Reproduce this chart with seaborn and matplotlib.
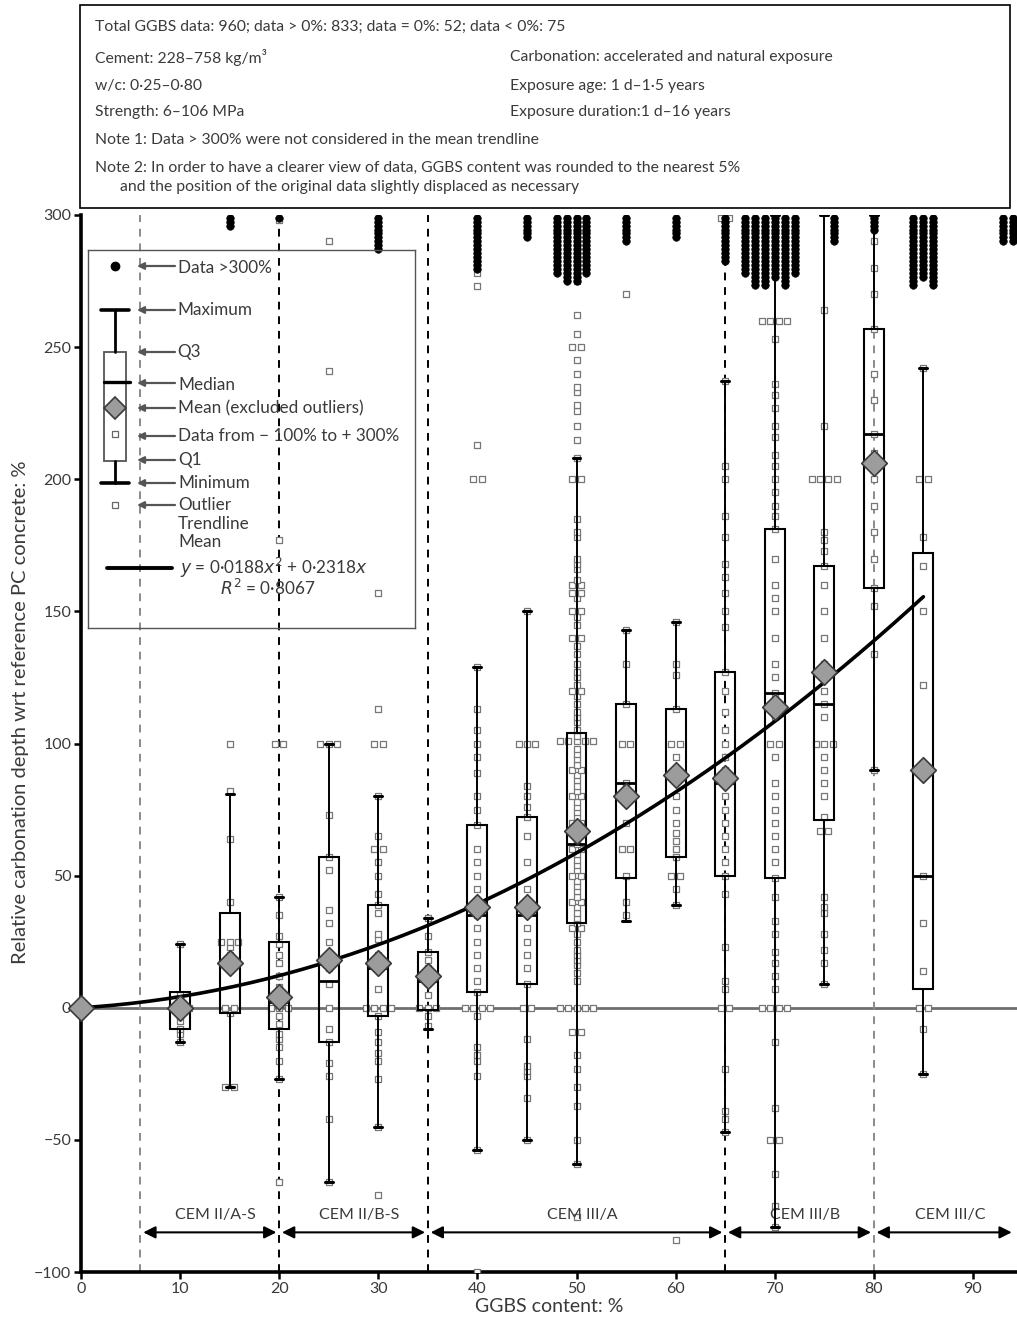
import numpy as np
import pandas as pd
import matplotlib
matplotlib.use("Agg")
import matplotlib.pyplot as plt
import seaborn as sns
from matplotlib.patches import Rectangle, Polygon

# ---------------- data ----------------
group_x = [10, 15, 20, 25, 30, 35, 40, 45, 50, 55, 60, 65, 70, 75, 80, 85]
box_q1 = [-8, -2, -8, -13, -3, -1, 6, 9, 32, 49, 57, 50, 49, 71, 159, 7]
box_q3 = [6, 36, 25, 57, 39, 21, 69, 72, 104, 115, 113, 127, 181, 167, 257, 172]
box_med = [0, 17, 2, 10, 15, 10, 35, 35, 62, 85, 87, 85, 119, 115, 217, 50]
box_lo = [-13, -30, -27, -66, -45, -8, -54, -50, -59, 33, 39, -47, -83, 9, 90, -25]
box_hi = [24, 81, 42, 100, 80, 34, 129, 150, 208, 143, 146, 237, 300, 300, 300, 242]

mean_x = [0, 10, 15, 20, 25, 30, 35, 40, 45, 50, 55, 60, 65, 70, 75, 80, 85]
mean_y = [0, 0, 17, 4, 18, 17, 12, 38, 38, 67, 80, 88, 87, 114, 127, 206, 90]

pts_0 = [0]
pts_10 = [24, 5, 3, 0, 0, 0, -3, -5, -8, -10, -13]
pts_15 = [100, 82, 64, 40, 25, 25, 25, 23, 20, 17, 0, 0, -2, -30, -30]
pts_20 = [298, 177, 100, 100, 42, 35, 27, 24, 20, 17, 12, 8, 5, 2, 0, 0, 0, -3, -6,
          -10, -12, -15, -20, -27, -66]
pts_25 = [290, 241, 100, 100, 100, 73, 57, 52, 37, 32, 25, 15, 9, 0, -8, -13, -21,
          -26, -42, -66]
pts_30 = [157, 113, 100, 100, 80, 65, 60, 60, 55, 50, 43, 39, 36, 28, 26, 20, 17, 15,
          7, 0, 0, 0, 0, -3, -9, -13, -17, -20, -27, -45, -71]
pts_35 = [34, 27, 21, 18, 15, 12, 10, 5, 0, 0, 0, -3, -7]
pts_40 = [283, 278, 273, 213, 200, 200, 129, 113, 105, 100, 95, 89, 80, 75, 69, 60,
          55, 50, 45, 40, 35, 30, 25, 20, 15, 10, 6, 0, 0, 0, 0, -3, -15, -18, -20,
          -26, -54, -100]
pts_45 = [150, 100, 100, 100, 84, 80, 76, 72, 65, 55, 45, 38, 30, 25, 20, 15, 9, 0, 0,
          -12, -22, -24, -26, -34, -50]
pts_50 = [282, 275, 262, 255, 250, 250, 245, 240, 235, 233, 228, 226, 220, 215, 208,
          200, 200, 185, 180, 178, 170, 168, 166, 162, 160, 160, 157, 157, 155, 150,
          150, 148, 145, 140, 140, 137, 134, 130, 127, 125, 122, 120, 120, 118, 115,
          112, 110, 108, 105, 103, 101, 101, 101, 101, 101, 98, 96, 94, 92, 90, 90, 88,
          86, 84, 82, 80, 80, 78, 76, 74, 72, 70, 70, 68, 66, 64, 62, 60, 60, 58, 56,
          54, 52, 50, 50, 48, 46, 44, 42, 40, 40, 38, 36, 34, 32, 30, 30, 28, 25, 22,
          20, 18, 16, 13, 10, 0, 0, 0, 0, 0, -9, -9, -18, -23, -30, -37, -50, -59, -79]
pts_55 = [270, 143, 130, 115, 100, 100, 85, 80, 70, 60, 60, 50, 40, 35]
pts_60 = [146, 130, 126, 113, 100, 100, 95, 89, 80, 75, 70, 66, 63, 60, 57, 50, 50,
          45, 39, -88]
pts_65 = [299, 299, 237, 205, 200, 186, 178, 168, 163, 157, 150, 144, 127, 120, 112,
          105, 100, 95, 90, 85, 80, 75, 70, 65, 60, 55, 50, 43, 23, 10, 7, 0, 0, -23,
          -39, -42, -47]
pts_70 = [260, 260, 260, 260, 253, 236, 232, 227, 220, 216, 209, 205, 200, 195, 190,
          186, 181, 170, 160, 155, 150, 140, 130, 125, 119, 115, 110, 100, 100, 95,
          85, 80, 75, 70, 65, 60, 55, 49, 42, 33, 28, 21, 17, 12, 7, 0, 0, 0, 0, -13,
          -38, -50, -50, -63, -75, -83]
pts_75 = [264, 220, 200, 200, 200, 200, 180, 177, 173, 167, 160, 150, 140, 130, 120,
          115, 110, 100, 100, 100, 95, 90, 85, 80, 72, 67, 67, 42, 38, 36, 28, 22, 17, 9]
pts_80 = [299, 290, 280, 270, 257, 240, 230, 217, 210, 200, 190, 180, 170, 159, 152,
          134, 90]
pts_85 = [242, 200, 200, 178, 167, 150, 122, 50, 32, 14, 0, 0, -8, -25]

scatter_x = [0, 10, 15, 20, 25, 30, 35, 40, 45, 50, 55, 60, 65, 70, 75, 80, 85]
scatter_vals = [pts_0, pts_10, pts_15, pts_20, pts_25, pts_30, pts_35, pts_40, pts_45,
                pts_50, pts_55, pts_60, pts_65, pts_70, pts_75, pts_80, pts_85]

# data > 300 % : column position and number of values
over_x = [15, 20, 30, 40, 45, 48, 49, 50, 51, 55, 60, 65, 67, 68, 69, 70, 71, 72, 76,
          80, 84, 85, 86, 93, 94]
over_n = [3, 1, 9, 14, 6, 15, 17, 17, 15, 7, 6, 12, 15, 18, 18, 16, 18, 15, 7, 4, 18,
          16, 18, 7, 7]

trend_a, trend_b = 0.0188, 0.2318

cem_bounds = [6, 20, 35, 65, 80, 94.2]
cem_labels = ["CEM II/A-S", "CEM II/B-S", "CEM III/A", "CEM III/B", "CEM III/C"]
divider_x = [6, 20, 35, 65, 80]
divider_col = ["#8a8a8a", "black", "black", "black", "#8a8a8a"]

# ---------------- styling ----------------
sns.set_style("ticks")
plt.rcParams["font.family"] = ["Lato", "DejaVu Sans"]
TXT = "#3a3a3a"

W, H = 1017, 1324
fig = plt.figure(figsize=(W / 100, H / 100), dpi=100)
ax = fig.add_axes([81 / W, 1 - 1272 / H, (W - 81) / W, (1272 - 215) / H])
ax.set_xlim(0, 94.45)
ax.set_ylim(-100, 300)

# scatter data frame, with horizontal displacement of coincident values
rows = []
for gx, vals in zip(scatter_x, scatter_vals):
    vals = np.asarray(vals, dtype=float)
    for v in np.unique(vals):
        k = int(np.sum(vals == v))
        offs = (np.arange(k) - (k - 1) / 2) * 0.85
        for o in offs:
            rows.append((gx + o, v))
df = pd.DataFrame(rows, columns=["x", "y"])

# reference lines
ax.axhline(0, color="#6f6f6f", lw=2, zorder=1)
for dx, dc in zip(divider_x, divider_col):
    ax.axvline(dx, color=dc, lw=1.4, ls=(0, (4, 3.5)), zorder=1)

sns.scatterplot(data=df, x="x", y="y", marker="s", s=24, color="white",
                edgecolor="#777777", linewidth=0.9, ax=ax, zorder=3, legend=False)

stats = []
for i in range(len(group_x)):
    stats.append(dict(med=box_med[i], q1=box_q1[i], q3=box_q3[i],
                      whislo=box_lo[i], whishi=box_hi[i], fliers=[], label=""))
ax.bxp(stats, positions=group_x, widths=2.0, showfliers=False, patch_artist=True,
       boxprops=dict(facecolor="none", edgecolor="black", lw=1.5),
       medianprops=dict(color="black", lw=2),
       whiskerprops=dict(color="black", lw=1.4),
       capprops=dict(color="black", lw=2.2), capwidths=0.8,
       manage_ticks=False, zorder=4)

# data > 300 %
ox, oy = [], []
for x0, n in zip(over_x, over_n):
    for i in range(n):
        ox.append(x0)
        oy.append(299 - 1.5 * i)
sns.scatterplot(x=ox, y=oy, marker="o", s=30, color="black", edgecolor="black",
                linewidth=0.4, ax=ax, zorder=5, legend=False)

# trendline
xs = np.linspace(0, 85, 200)
sns.lineplot(x=xs, y=trend_a * xs ** 2 + trend_b * xs, color="black", lw=2.6, ax=ax,
             zorder=6)

# means
sns.scatterplot(x=mean_x, y=mean_y, marker="D", s=170, color="#9c9c9c",
                edgecolor="#3a3a3a", linewidth=1.2, ax=ax, zorder=7, legend=False,
                clip_on=False)

# cement type arrows
for i in range(len(cem_labels)):
    a, b = cem_bounds[i], cem_bounds[i + 1]
    ax.annotate("", xy=(b, -85), xytext=(a, -85),
                arrowprops=dict(arrowstyle="<|-|>", color="black", lw=1.5,
                                mutation_scale=18, shrinkA=2, shrinkB=2), zorder=6)
    ax.text((a + b) / 2 + 0.6, -78.5, cem_labels[i], ha="center", va="center",
            fontsize=11.5, color=TXT)

# axes cosmetics
sns.despine(ax=ax, top=True, right=True)
for s in ["left", "bottom"]:
    ax.spines[s].set_linewidth(2.6)
    ax.spines[s].set_color("black")
ax.set_xticks(range(0, 100, 10))
ax.set_yticks(range(-100, 301, 50))
ax.tick_params(axis="both", direction="out", length=5, width=1.8, color="black",
               labelsize=11.5, labelcolor=TXT, pad=2)
ax.set_xlabel("GGBS content: %", fontsize=14, color=TXT, labelpad=2)
ax.set_ylabel("Relative carbonation depth wrt reference PC concrete: %", fontsize=14.5,
              color=TXT)
ax.yaxis.set_label_coords(-0.056, 0.53)
ax.grid(False)


# ---------------- header text box ----------------
def fx(px):
    return px / W


def fy(py):
    return 1 - py / H


fig.patches.append(Rectangle((fx(80), fy(208)), 930 / W, 203 / H,
                             transform=fig.transFigure, fill=False, ec="black", lw=1.2))
hdr = dict(fontsize=11.3, color=TXT, va="center", ha="left")
fig.text(fx(95), fy(27), "Total GGBS data: 960; data > 0%: 833; data = 0%: 52; data < 0%: 75", **hdr)
fig.text(fx(95), fy(57), "Cement: 228–758 kg/m³", **hdr)
fig.text(fx(95), fy(86), "w/c: 0·25–0·80", **hdr)
fig.text(fx(95), fy(112), "Strength: 6–106 MPa", **hdr)
fig.text(fx(510), fy(57), "Carbonation: accelerated and natural exposure", **hdr)
fig.text(fx(510), fy(86), "Exposure age: 1 d–1·5 years", **hdr)
fig.text(fx(510), fy(112), "Exposure duration:1 d–16 years", **hdr)
fig.text(fx(95), fy(140), "Note 1: Data > 300% were not considered in the mean trendline", **hdr)
fig.text(fx(95), fy(168), "Note 2: In order to have a clearer view of data, GGBS content was rounded to the nearest 5%", **hdr)
fig.text(fx(120), fy(187), "and the position of the original data slightly displaced as necessary", **hdr)

# ---------------- legend panel ----------------
lax = fig.add_axes([88 / W, 1 - 628 / H, 327 / W, 378 / H])
lax.set_xlim(88, 415)
lax.set_ylim(628, 250)
lax.patch.set_alpha(0)
for s in lax.spines.values():
    s.set_color("#555555")
    s.set_linewidth(1)
lax.set_xticks([])
lax.set_yticks([])

cx = 115
lax.plot([cx], [266], "o", color="black", ms=6)
lax.plot([101, 129], [310, 310], color="black", lw=2.6)
lax.plot([cx, cx], [310, 352], color="black", lw=2)
lax.add_patch(Rectangle((104, 352), 22, 109, fill=False, ec="#555555", lw=1.3))
lax.plot([104, 130], [382, 382], color="black", lw=2.4)
lax.add_patch(Polygon([[cx, 397], [cx + 11, 408], [cx, 419], [cx - 11, 408]],
                      closed=True, fc="#9c9c9c", ec="#3a3a3a", lw=1.2))
lax.plot([cx], [434], "s", mfc="white", mec="#666666", ms=4.5, mew=0.9)
lax.plot([cx, cx], [461, 483], color="black", lw=2)
lax.plot([101, 129], [483, 483], color="black", lw=2.6)
lax.plot([cx], [505], "s", mfc="white", mec="#666666", ms=4.5, mew=0.9)
lax.plot([107, 172], [568, 568], color="black", lw=2.8)

for yy in [266, 310, 352, 383, 408, 436, 460, 483, 505]:
    lax.annotate("", xy=(137, yy), xytext=(175, yy),
                 arrowprops=dict(arrowstyle="-|>", color="#555555", lw=1.6,
                                 mutation_scale=10, shrinkA=0, shrinkB=0))

lt = dict(fontsize=12.3, color=TXT, va="center", ha="left")
lax.text(178, 268, "Data >300%", **lt)
lax.text(177, 310, "Maximum", **lt)
lax.text(177, 352, "Q3", **lt)
lax.text(178, 385, "Median", **lt)
lax.text(178, 408, "Mean (excluded outliers)", **lt)
lax.text(178, 436, "Data from − 100% to + 300%", **lt)
lax.text(178, 460, "Q1", **lt)
lax.text(178, 483, "Minimum", **lt)
lax.text(178, 505, "Outlier", **lt)
lax.text(178, 524, "Trendline", **lt)
lax.text(178, 542, "Mean", **lt)
lax.text(180, 568, "$y$ = 0·0188$x^2$ + 0·2318$x$", **lt)
lax.text(220, 588, "$R^2$ = 0·8067", **lt)

fig.savefig("out.png", dpi=100)
